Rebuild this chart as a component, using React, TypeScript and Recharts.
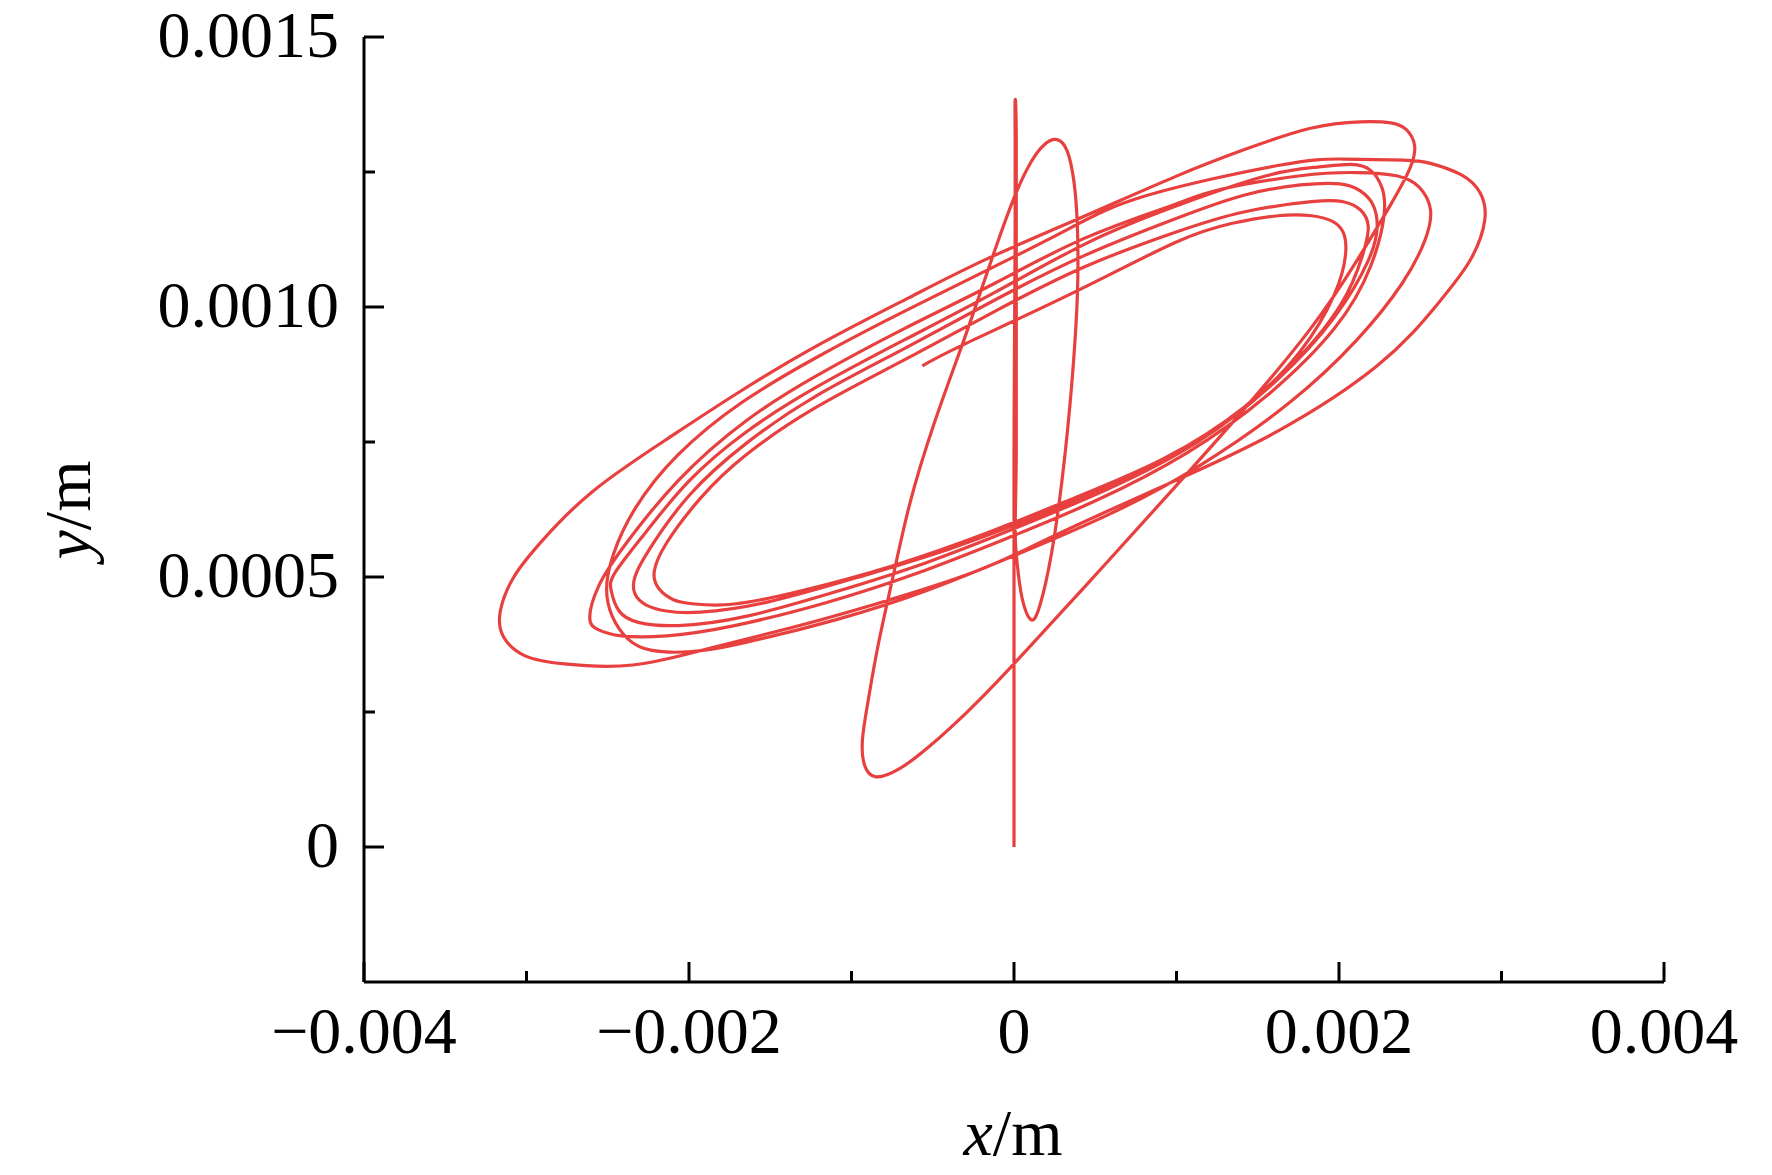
import { LineChart, Line, XAxis, YAxis } from "recharts";

// trajectory, x and y in mm (converted to m below)
const startX = [0, 0, 0, 0.007, 0.007, 0.007, 0.014, 0.014, 0.014, 0.007, 0.021, 0.049, 0.104, 0.16, 0.23, 0.299, 0.355, 0.39, 0.39, 0.369, 0.327, 0.265, 0.188, 0.104, 0.007, -0.104, -0.216, -0.32, -0.494, -0.641, -0.745, -0.836, -0.898, -0.933, -0.919, -0.85, -0.71, -0.522, -0.292, -0.035];
const startY = [0, 0.312, 0.73, 1.149, 1.316, 1.383, 1.316, 1.044, 0.73, 0.584, 0.521, 0.462, 0.421, 0.448, 0.542, 0.688, 0.856, 1.023, 1.149, 1.232, 1.289, 1.31, 1.301, 1.268, 1.207, 1.117, 1.019, 0.929, 0.782, 0.636, 0.5, 0.374, 0.27, 0.197, 0.151, 0.13, 0.144, 0.186, 0.249, 0.328];

const outerX = [0.439, 0.968, 1.414, 1.825, 2.11, 2.319, 2.437, 2.465, 2.416, 2.319, 2.131, 1.825, 1.414, 0.989, 0.439, -0.16, -0.648, -1.219, -1.72, -2.138, -2.591, -2.904, -3.078, -3.161, -3.141, -3.008, -2.765, -2.347, -1.873, -1.372, -0.85, -0.237, 0.251, 0.989, 1.623, 2.235, 2.597, 2.806, 2.897, 2.869, 2.751, 2.563, 2.396, 2.026, 1.623];
const outerY = [0.483, 0.659, 0.81, 0.96, 1.086, 1.19, 1.257, 1.299, 1.328, 1.341, 1.343, 1.331, 1.291, 1.241, 1.169, 1.09, 1.017, 0.927, 0.837, 0.755, 0.659, 0.567, 0.5, 0.437, 0.389, 0.354, 0.339, 0.337, 0.368, 0.406, 0.45, 0.51, 0.577, 0.678, 0.77, 0.891, 1.002, 1.086, 1.161, 1.211, 1.245, 1.266, 1.272, 1.274, 1.262];

const loop2X = [0.801, 0.23, -0.648, -1.219, -1.671, -2.068, -2.333, -2.465, -2.507, -2.472, -2.375, -2.228, -1.985, -1.65, -1.093, -0.536, 0.021, 0.578, 1.135, 1.692, 2.11, 2.389, 2.528, 2.563, 2.493, 2.354, 2.11];
const loop2Y = [1.205, 1.128, 0.996, 0.906, 0.824, 0.726, 0.626, 0.542, 0.479, 0.427, 0.385, 0.364, 0.362, 0.379, 0.421, 0.475, 0.542, 0.615, 0.705, 0.822, 0.939, 1.044, 1.123, 1.18, 1.222, 1.243, 1.249];

const loop3X = [1.762, 1.274, 0.989, 0.439, -0.118, -0.675, -1.219, -1.65, -2.068, -2.402, -2.556, -2.611, -2.556, -2.416, -2.138, -1.72, -1.163, -0.606, -0.049, 0.508, 1.065, 1.553, 1.971, 2.194, 2.277, 2.263, 2.194, 2.075, 1.866];
const loop3Y = [1.243, 1.218, 1.19, 1.128, 1.044, 0.96, 0.872, 0.789, 0.678, 0.556, 0.483, 0.425, 0.402, 0.391, 0.391, 0.41, 0.452, 0.506, 0.571, 0.642, 0.73, 0.835, 0.96, 1.075, 1.169, 1.222, 1.253, 1.264, 1.259];

const loop4X = [1.553, 0.989, 0.439, -0.118, -0.675, -1.219, -1.65, -1.999, -2.263, -2.451, -2.479, -2.43, -2.312, -2.068, -1.65, -1.093, -0.536, 0.021, 0.578, 1.135, 1.623, 1.971, 2.18, 2.235, 2.208, 2.131, 2.006, 1.762];
const loop4Y = [1.243, 1.186, 1.117, 1.027, 0.939, 0.851, 0.768, 0.678, 0.584, 0.51, 0.475, 0.437, 0.416, 0.41, 0.427, 0.473, 0.527, 0.592, 0.663, 0.751, 0.866, 0.981, 1.086, 1.149, 1.19, 1.215, 1.228, 1.226];

const loop5X = [1.414, 0.989, 0.439, -0.118, -0.675, -1.219, -1.65, -1.999, -2.242, -2.333, -2.333, -2.263, -2.138, -1.929, -1.511, -0.954, -0.397, 0.16, 0.717, 1.274, 1.692, 2.006, 2.145, 2.18, 2.131, 2.026, 1.831];
const loop5Y = [1.207, 1.163, 1.096, 1.013, 0.923, 0.835, 0.747, 0.651, 0.552, 0.5, 0.469, 0.448, 0.437, 0.435, 0.454, 0.5, 0.552, 0.615, 0.688, 0.782, 0.887, 1.002, 1.096, 1.149, 1.18, 1.195, 1.195];

const loop6X = [1.414, 0.989, 0.439, -0.118, -0.675, -1.219, -1.65, -1.929, -2.138, -2.214, -2.187, -2.096, -1.964, -1.72, -1.302, -0.745, -0.188, 0.369, 0.926, 1.414, 1.762, 1.971, 2.04, 2.026, 1.957, 1.831, 1.623];
const loop6Y = [1.176, 1.138, 1.075, 0.992, 0.902, 0.814, 0.726, 0.646, 0.563, 0.51, 0.479, 0.458, 0.45, 0.45, 0.475, 0.521, 0.579, 0.646, 0.72, 0.814, 0.918, 1.023, 1.096, 1.138, 1.159, 1.169, 1.169];

const tailX = [1.344, 0.989, 0.369, -0.32, -0.564];
const tailY = [1.155, 1.119, 1.027, 0.929, 0.891];

const xMajor = [-0.004, -0.002, 0, 0.002, 0.004];
const xMajorLabels = ["\u22120.004", "\u22120.002", "0", "0.002", "0.004"];
const xMinor = [-0.003, -0.001, 0.001, 0.003];
const yMajor = [0, 0.0005, 0.001, 0.0015];
const yMajorLabels = ["0", "0.0005", "0.0010", "0.0015"];
const yMinor = [0.00025, 0.00075, 0.00125];

const allX = [...startX, ...outerX, ...loop2X, ...loop3X, ...loop4X, ...loop5X, ...loop6X, ...tailX];
const allY = [...startY, ...outerY, ...loop2Y, ...loop3Y, ...loop4Y, ...loop5Y, ...loop6Y, ...tailY];
const data = allX.map((v, i) => ({ x: v / 1000, y: allY[i] / 1000 }));

const FONT = "'Liberation Serif', 'Times New Roman', serif";
const RED = "#E8403F";

const findIdx = (arr: number[], v: number) => arr.findIndex((a) => Math.abs(a - v) < 1e-9);

function XTick(props: any) {
  const { x, y, payload } = props;
  const i = findIdx(xMajor, payload.value);
  const len = i >= 0 ? 20 : 11;
  return (
    <g>
      <line x1={x} y1={y} x2={x} y2={y - len} stroke="#000" strokeWidth={3} />
      {i >= 0 && (
        <text x={x} y={y + 71} textAnchor="middle" fontFamily={FONT} fontSize={66} fill="#000">
          {xMajorLabels[i]}
        </text>
      )}
    </g>
  );
}

function YTick(props: any) {
  const { x, y, payload } = props;
  const i = findIdx(yMajor, payload.value);
  const len = i >= 0 ? 20 : 11;
  return (
    <g>
      <line x1={x} y1={y} x2={x + len} y2={y} stroke="#000" strokeWidth={3} />
      {i >= 0 && (
        <text x={x - 25} y={y} dy="0.3em" textAnchor="end" fontFamily={FONT} fontSize={66} fill="#000">
          {yMajorLabels[i]}
        </text>
      )}
    </g>
  );
}

export default function App() {
  return (
    <div style={{ position: "absolute", left: 0, top: 0, width: 1772, height: 1175, background: "#fff" }}>
      <LineChart width={1772} height={1175} data={data} margin={{ top: 37, right: 108, bottom: 0, left: 0 }}>
        <XAxis
          type="number"
          dataKey="x"
          domain={[-0.004, 0.004]}
          ticks={[...xMajor, ...xMinor].sort((a, b) => a - b)}
          interval={0}
          height={193}
          tickSize={0}
          tickMargin={0}
          tickLine={false}
          tick={<XTick />}
          axisLine={{ stroke: "#000", strokeWidth: 3 }}
          allowDataOverflow
        />
        <YAxis
          type="number"
          domain={[-0.00025, 0.0015]}
          ticks={[...yMajor, ...yMinor].sort((a, b) => a - b)}
          interval={0}
          width={364}
          tickSize={0}
          tickMargin={0}
          tickLine={false}
          tick={<YTick />}
          axisLine={{ stroke: "#000", strokeWidth: 3 }}
          allowDataOverflow
        />
        <Line
          dataKey="y"
          type="natural"
          stroke={RED}
          strokeWidth={3.2}
          dot={false}
          activeDot={false}
          isAnimationActive={false}
        />
      </LineChart>
      <svg width={1772} height={1175} style={{ position: "absolute", left: 0, top: 0, pointerEvents: "none" }}>
        <text x={1013} y={1155} textAnchor="middle" fontFamily={FONT} fontSize={66} fill="#000">
          <tspan fontStyle="italic">x</tspan>/m
        </text>
        <text x={90} y={510} textAnchor="middle" fontFamily={FONT} fontSize={66} fill="#000" transform="rotate(-90, 90, 510)">
          <tspan fontStyle="italic">y</tspan>/m
        </text>
      </svg>
    </div>
  );
}
